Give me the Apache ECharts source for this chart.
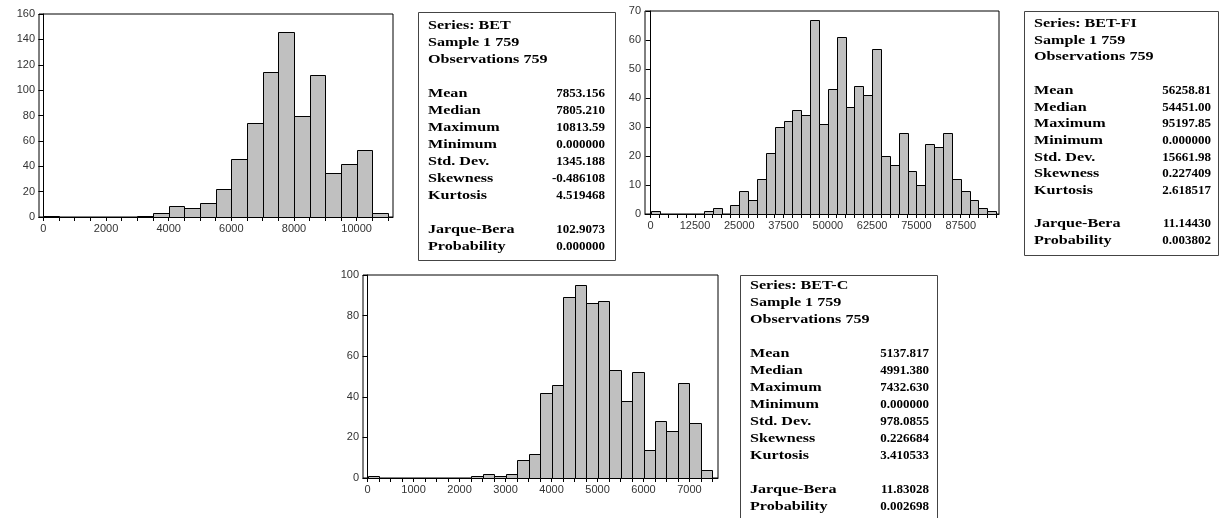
<!DOCTYPE html>
<html>
<head>
<meta charset="utf-8">
<script src="https://cdn.jsdelivr.net/npm/echarts@6/dist/echarts.min.js"></script>
<style>
html,body{margin:0;padding:0;background:#fff;}
#c{width:1220px;height:518px;}
</style>
</head>
<body>
<div id="c"></div>
<script>
// ---------- DATA ----------
// BET histogram: bins of 500 starting at 0
const betBinWidth = 500;
const betCounts = [1,0,0,0,0,0,1,3,9,7,11,22,46,74,114,146,80,112,35,42,53,3];
const betXLabels = [0,2000,4000,6000,8000,10000];
const betXTicks = [0,500,1000,1500,2000,2500,3000,3500,4000,4500,5000,5500,6000,6500,7000,7500,8000,8500,9000,9500,10000,10500,11000];

// BET-FI histogram: bins of 2500 starting at 0
const betFiBinWidth = 2500;
const betFiCounts = [1,0,0,0,0,0,1,2,0,3,8,5,12,21,30,32,36,34,67,31,43,61,37,44,41,57,20,17,28,15,10,24,23,28,12,8,5,2,1];
const betFiXLabels = [0,12500,25000,37500,50000,62500,75000,87500];
const betFiXTicks = [0,2500,5000,7500,10000,12500,15000,17500,20000,22500,25000,27500,30000,32500,35000,37500,40000,42500,45000,47500,50000,52500,55000,57500,60000,62500,65000,67500,70000,72500,75000,77500,80000,82500,85000,87500,90000,92500,95000,97500];

// BET-C histogram: bins of 250 starting at 0
const betCBinWidth = 250;
const betCCounts = [1,0,0,0,0,0,0,0,0,1,2,1,2,9,12,42,46,89,95,86,87,53,38,52,14,28,23,47,27,4];
const betCXLabels = [0,1000,2000,3000,4000,5000,6000,7000];
const betCXTicks = [0,250,500,750,1000,1250,1500,1750,2000,2250,2500,2750,3000,3250,3500,3750,4000,4250,4500,4750,5000,5250,5500,5750,6000,6250,6500,6750,7000,7250,7500];

// Statistics tables
const statLabels = ["Mean","Median","Maximum","Minimum","Std. Dev.","Skewness","Kurtosis"];
const betStats = ["7853.156","7805.210","10813.59","0.000000","1345.188","-0.486108","4.519468"];
const betFiStats = ["56258.81","54451.00","95197.85","0.000000","15661.98","0.227409","2.618517"];
const betCStats = ["5137.817","4991.380","7432.630","0.000000","978.0855","0.226684","3.410533"];
const testLabels = ["Jarque-Bera","Probability"];
const betTests = ["102.9073","0.000000"];
const betFiTests = ["11.14430","0.003802"];
const betCTests = ["11.83028","0.002698"];
const seriesNames = ["BET","BET-FI","BET-C"];
const sampleText = "Sample 1 759";
const obsText = "Observations 759";

// ---------- BUILD ----------
function binData(counts, w){
  const out = [];
  counts.forEach((c,i)=>{ if(c>0) out.push([i*w,(i+1)*w,c]); });
  return out;
}
function renderBin(params, api){
  const p0 = api.coord([api.value(0), api.value(2)]);
  const p1 = api.coord([api.value(1), 0]);
  return {
    type:'rect',
    shape:{x:Math.round(p0[0])+0.5, y:Math.round(p0[1])+0.5, width:Math.round(p1[0])-Math.round(p0[0]), height:Math.round(p1[1])-Math.round(p0[1])},
    style:{fill:'#c0c0c0', stroke:'#000', lineWidth:1}
  };
}
const axisFont = {fontFamily:'"Liberation Sans", Arial, sans-serif', fontSize:11, color:'#333'};
function xAxis(grid, min, max, ticks, labels){
  return {
    type:'value', gridIndex:grid, min:min, max:max,
    axisLine:{show:true, onZero:false, lineStyle:{color:'#000', width:1}},
    axisTick:{show:true, length:4, customValues:ticks, lineStyle:{color:'#000'}},
    axisLabel:Object.assign({show:true, margin:6, customValues:labels, showMinLabel:true, showMaxLabel:true, formatter:function(v){return String(v);}}, axisFont),
    splitLine:{show:false}
  };
}
function yAxis(grid, max, interval){
  return {
    type:'value', gridIndex:grid, min:0, max:max, interval:interval,
    axisLine:{show:true, lineStyle:{color:'#000', width:1}},
    axisTick:{show:true, length:5, lineStyle:{color:'#000'}},
    axisLabel:Object.assign({show:true, margin:4, formatter:function(v){return String(v);}}, axisFont),
    splitLine:{show:false}
  };
}
const gridBase = {show:true, borderColor:'#000', borderWidth:1, backgroundColor:'transparent', containLabel:false, outerBoundsMode:'none'};

// stats box graphics
const labelFont = 'bold 13px "Liberation Serif", "Times New Roman", serif';
const labelStretch = 1.24;
function txt(t, x, y, align, stretch){
  return {type:'text', x:x, y:y, scaleX:stretch, originX:0, originY:0, z:11,
    style:{text:t, x:0, y:0, font:labelFont, fill:'#000', textAlign:align, textVerticalAlign:'middle', verticalAlign:'middle'}};
}
function statBox(name, stats, tests, box, textLeft, valRight, ys){
  const els = [];
  els.push({type:'rect', shape:{x:box[0]+0.5, y:box[1]+0.5, width:box[2], height:box[3]}, style:{fill:'#fff', stroke:'#444', lineWidth:1}, z:10});
  const head = ["Series: "+name, sampleText, obsText];
  head.forEach((t,i)=>els.push(txt(t, textLeft, ys[i], 'left', labelStretch)));
  statLabels.forEach((t,i)=>{
    els.push(txt(t, textLeft, ys[3+i], 'left', labelStretch));
    els.push(txt(stats[i], valRight, ys[3+i], 'right', 1));
  });
  testLabels.forEach((t,i)=>{
    els.push(txt(t, textLeft, ys[10+i], 'left', labelStretch));
    els.push(txt(tests[i], valRight, ys[10+i], 'right', 1));
  });
  return els;
}
function lineYs(y0, step){
  const r=[]; const offs=[0,1,2,4,5,6,7,8,9,10,12,13];
  offs.forEach(o=>r.push(Math.round(y0+o*step)));
  return r;
}

const chart = echarts.init(document.getElementById('c'), null, {renderer:'canvas'});
chart.setOption({
  animation:false,
  backgroundColor:'#fff',
  grid:[
    Object.assign({left:39, top:14, width:354, height:203}, gridBase),
    Object.assign({left:645, top:11, width:354, height:203}, gridBase),
    Object.assign({left:363, top:275, width:355, height:203}, gridBase)
  ],
  xAxis:[
    xAxis(0, -140, 11160, betXTicks, betXLabels),
    xAxis(1, -1600, 98300, betFiXTicks, betFiXLabels),
    xAxis(2, -100, 7620, betCXTicks, betCXLabels)
  ],
  yAxis:[
    yAxis(0, 160, 20),
    yAxis(1, 70, 10),
    yAxis(2, 100, 20)
  ],
  series:[
    {type:'custom', xAxisIndex:0, yAxisIndex:0, renderItem:renderBin, encode:{x:[0,1], y:2}, data:binData(betCounts, betBinWidth)},
    {type:'custom', xAxisIndex:1, yAxisIndex:1, renderItem:renderBin, encode:{x:[0,1], y:2}, data:binData(betFiCounts, betFiBinWidth)},
    {type:'custom', xAxisIndex:2, yAxisIndex:2, renderItem:renderBin, encode:{x:[0,1], y:2}, data:binData(betCCounts, betCBinWidth)}
  ],
  graphic:[].concat(
    statBox(seriesNames[0], betStats, betTests, [418,12,197,248], 428, 605, lineYs(26,17.0)),
    statBox(seriesNames[1], betFiStats, betFiTests, [1024,11,194,244], 1034, 1211, lineYs(24,16.7)),
    statBox(seriesNames[2], betCStats, betCTests, [740,275,197,260], 750, 929, lineYs(286,17.0))
  )
});
</script>
</body>
</html>
